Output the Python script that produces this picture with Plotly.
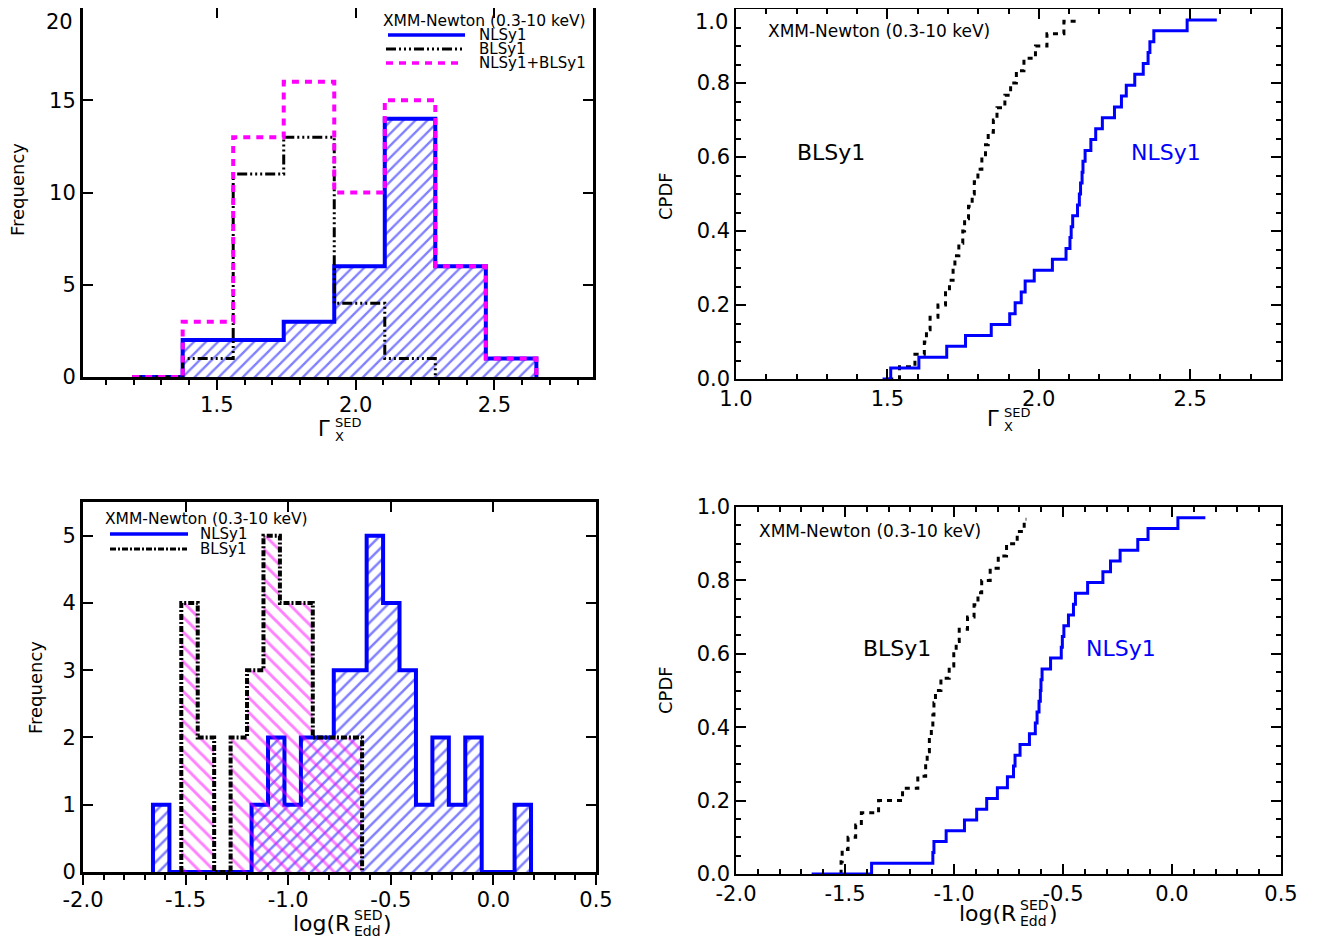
import plotly.graph_objects as go

# The page body keeps its default 8px margin, so the figure is sized to fit the
# window and all reference pixel positions are shifted by that offset.
OFF = 8
W, H = 1317 - OFF, 941 - OFF
FONT = "DejaVu Sans"
BLUE = "#0000FF"
MAGENTA = "#FF00FF"

# ---------------- data ----------------
# Top-left histogram of Gamma_X (common bins)
gamma_bin_start = 1.195
gamma_bin_width = 0.182
gamma_counts_nlsy1 = [0, 2, 2, 3, 6, 14, 6, 1]
gamma_counts_blsy1 = [0, 1, 11, 13, 4, 1]
gamma_counts_all = [0, 3, 13, 16, 10, 15, 6, 1]

# Bottom-left histogram of log(R_Edd)
redd_bin_width = 0.0801
redd_start_nlsy1 = -1.659
redd_counts_nlsy1 = [1, 0, 0, 0, 0, 0, 1, 2, 1, 2, 2, 3, 3, 5, 4, 3, 1, 2, 1, 2, 0, 0, 1]
redd_start_blsy1 = -1.521
redd_counts_blsy1 = [4, 2, 0, 2, 3, 5, 4, 4, 2, 2, 2]

# CPDF step positions: start of curve, each rise, end of curve
gamma_cdf_nlsy1 = [1.484, 1.511, 1.604, 1.696, 1.758, 1.843, 1.904, 1.922, 1.942, 1.955,
                   1.985, 2.045, 2.090, 2.103, 2.107, 2.112, 2.128, 2.134, 2.138, 2.143,
                   2.146, 2.153, 2.172, 2.188, 2.210, 2.250, 2.273, 2.289, 2.317, 2.345,
                   2.361, 2.367, 2.380, 2.490, 2.588]
gamma_cdf_blsy1 = [1.503, 1.540, 1.591, 1.622, 1.629, 1.641, 1.667, 1.692, 1.705, 1.717,
                   1.723, 1.736, 1.749, 1.755, 1.768, 1.780, 1.787, 1.799, 1.812, 1.824,
                   1.833, 1.850, 1.862, 1.888, 1.907, 1.926, 1.951, 1.989, 2.027, 2.083,
                   2.134]
redd_cdf_nlsy1 = [-1.653, -1.378, -1.097, -1.092, -1.036, -0.952, -0.896, -0.850, -0.801,
                  -0.755, -0.727, -0.720, -0.697, -0.654, -0.627, -0.619, -0.610, -0.604,
                  -0.601, -0.596, -0.557, -0.508, -0.503, -0.496, -0.475, -0.452, -0.443,
                  -0.387, -0.317, -0.282, -0.238, -0.157, -0.110, 0.027, 0.153]
redd_cdf_blsy1 = [-1.521, -1.518, -1.513, -1.486, -1.451, -1.425, -1.346, -1.236, -1.166,
                  -1.130, -1.123, -1.113, -1.104, -1.097, -1.092, -1.085, -1.060, -1.022,
                  -1.001, -0.990, -0.976, -0.938, -0.908, -0.890, -0.873, -0.834, -0.797,
                  -0.759, -0.710, -0.678, -0.668]

label_obs = "XMM-Newton (0.3-10 keV)"
label_nl = "NLSy1"
label_bl = "BLSy1"
label_all = "NLSy1+BLSy1"

gamma_ticks = [1.0, 1.5, 2.0, 2.5]
redd_ticks = [-2.0, -1.5, -1.0, -0.5, 0.0, 0.5]
cdf_ticks = [0.0, 0.2, 0.4, 0.6, 0.8, 1.0]
freq_ticks_top = [0, 5, 10, 15, 20]
freq_ticks_bottom = [0, 1, 2, 3, 4, 5]


# ---------------- helpers ----------------
def step_xy(start, width, counts):
    edges = [start + i * width for i in range(len(counts) + 1)]
    return [edges[0]] + edges, [0] + list(counts) + [0]


def cdf_xy(xs):
    n = len(xs) - 1
    ys = [i / n for i in range(n)] + [(n - 1) / n]
    return xs, ys


def px(x):
    return min(1.0, max(0.0, (x - OFF) / W))


def py(y):
    return min(1.0, max(0.0, 1 - (y - OFF) / H))


fig = go.Figure()

# ---- top-left ----
x, y = step_xy(gamma_bin_start, gamma_bin_width, gamma_counts_nlsy1)
fig.add_trace(go.Scatter(x=x, y=y, mode="lines", line=dict(color=BLUE, width=4, shape="hv"),
                         fill="tozeroy", fillcolor="rgba(0,0,0,0)",
                         fillpattern=dict(shape="/", fgcolor=BLUE, bgcolor="rgba(0,0,0,0)",
                                          size=8.5, solidity=0.28),
                         xaxis="x", yaxis="y", showlegend=False))
x, y = step_xy(gamma_bin_start, gamma_bin_width, gamma_counts_blsy1)
fig.add_trace(go.Scatter(x=x, y=y, mode="lines",
                         line=dict(color="black", width=3, shape="hv",
                                   dash="10px,3px,2px,3px,2px,3px,2px,3px"),
                         xaxis="x", yaxis="y", showlegend=False))
x, y = step_xy(gamma_bin_start, gamma_bin_width, gamma_counts_all)
fig.add_trace(go.Scatter(x=x, y=y, mode="lines",
                         line=dict(color=MAGENTA, width=4, shape="hv", dash="7px,6px"),
                         xaxis="x5", yaxis="y", showlegend=False))

# ---- top-right ----
x, y = cdf_xy(gamma_cdf_blsy1)
fig.add_trace(go.Scatter(x=x, y=y, mode="lines",
                         line=dict(color="black", width=3, shape="hv", dash="5px,5px"),
                         xaxis="x2", yaxis="y2", showlegend=False))
x, y = cdf_xy(gamma_cdf_nlsy1)
fig.add_trace(go.Scatter(x=x, y=y, mode="lines", line=dict(color=BLUE, width=3, shape="hv"),
                         xaxis="x2", yaxis="y2", showlegend=False))

# ---- bottom-left ----
x, y = step_xy(redd_start_nlsy1, redd_bin_width, redd_counts_nlsy1)
fig.add_trace(go.Scatter(x=x, y=y, mode="lines", line=dict(color=BLUE, width=4, shape="hv"),
                         fill="tozeroy", fillcolor="rgba(0,0,0,0)",
                         fillpattern=dict(shape="/", fgcolor=BLUE, bgcolor="rgba(0,0,0,0)",
                                          size=9, solidity=0.28),
                         xaxis="x3", yaxis="y3", showlegend=False))
x, y = step_xy(redd_start_blsy1, redd_bin_width, redd_counts_blsy1)
fig.add_trace(go.Scatter(x=x, y=y, mode="lines",
                         line=dict(color="black", width=4, shape="hv", dash="6px,2px,2px,2px"),
                         fill="tozeroy", fillcolor="rgba(0,0,0,0)",
                         fillpattern=dict(shape="\\", fgcolor=MAGENTA, bgcolor="rgba(0,0,0,0)",
                                          size=10.5, solidity=0.28),
                         xaxis="x6", yaxis="y3", showlegend=False))

# ---- bottom-right ----
x, y = cdf_xy(redd_cdf_blsy1)
fig.add_trace(go.Scatter(x=x, y=y, mode="lines",
                         line=dict(color="black", width=3, shape="hv", dash="5px,5px"),
                         xaxis="x4", yaxis="y4", showlegend=False))
x, y = cdf_xy(redd_cdf_nlsy1)
fig.add_trace(go.Scatter(x=x, y=y, mode="lines", line=dict(color=BLUE, width=3, shape="hv"),
                         xaxis="x4", yaxis="y4", showlegend=False))

tickfont = dict(family=FONT, size=21, color="black")


def fmt(vals):
    return [f"{v:.1f}" for v in vals]


COMMON = dict(showgrid=False, zeroline=False, automargin=False, ticklabeloverflow="allow")


def left_x(domain, rng, tickvals, anchor):
    return dict(domain=domain, range=rng, anchor=anchor, tickmode="array", tickvals=tickvals,
                ticktext=fmt(tickvals), ticks="outside", ticklen=10, tickwidth=2,
                tickcolor="black", showline=True, linewidth=3, linecolor="black", mirror=True,
                tickfont=tickfont, layer="below traces", ticklabelstandoff=-3,
                minor=dict(ticks="outside", dtick=0.1, tick0=0, ticklen=5, tickwidth=2,
                           tickcolor="black", showgrid=False), **COMMON)


def left_top(over, rng, tickvals, anchor):
    return dict(overlaying=over, side="top", anchor=anchor, range=rng, tickmode="array",
                tickvals=tickvals, ticks="inside", ticklen=10, tickwidth=2, tickcolor="black",
                showticklabels=False, showline=False, **COMMON)


def left_y(domain, rng, tickvals, ticktext, anchor):
    return dict(domain=domain, range=rng, anchor=anchor, tickmode="array", tickvals=tickvals,
                ticktext=ticktext, ticks="inside", ticklen=10, tickwidth=2, tickcolor="black",
                showline=True, linewidth=3, linecolor="black", mirror="ticks",
                tickfont=tickfont, layer="below traces", **COMMON)


def right_x(domain, rng, tickvals, anchor):
    return dict(domain=domain, range=rng, anchor=anchor, tickmode="array", tickvals=tickvals,
                ticktext=fmt(tickvals), ticks="inside", ticklen=10, tickwidth=1.5,
                tickcolor="black", showline=True, linewidth=1.5, linecolor="black",
                mirror="ticks", tickfont=tickfont,
                minor=dict(ticks="inside", dtick=0.1, tick0=0, ticklen=5, tickwidth=1.5,
                           tickcolor="black", showgrid=False), **COMMON)


def right_y(domain, anchor, ticktext):
    return dict(domain=domain, range=[0, 1.0], anchor=anchor, tickmode="array",
                tickvals=cdf_ticks, ticktext=ticktext, ticks="inside", ticklen=10,
                tickwidth=1.5, tickcolor="black", showline=True, linewidth=1.5,
                linecolor="black", mirror="ticks", tickfont=tickfont,
                minor=dict(ticks="inside", dtick=0.05, tick0=0, ticklen=5, tickwidth=1.5,
                           tickcolor="black", showgrid=False), **COMMON)


# the topmost labels of the upper panels would be clipped by the page edge,
# so they are drawn as annotations just inside it
tl_ytext = [str(v) for v in freq_ticks_top[:-1]] + [""]
tr_ytext = fmt(cdf_ticks[:-1]) + [""]

tl_xr = [1.018, 2.855]
bl_xr = [-2.0, 0.5]
fig.update_layout(
    xaxis=left_x([px(83), px(593)], tl_xr, gamma_ticks[1:], "y"),
    yaxis=left_y([py(377), py(8)], [0, 20], freq_ticks_top, tl_ytext, "x"),
    xaxis5=left_top("x", tl_xr, gamma_ticks[1:], "y"),
    xaxis2=right_x([px(736), px(1281)], [1.0, 2.8], gamma_ticks, "y2"),
    yaxis2=right_y([py(379), py(9)], "x2", tr_ytext),
    xaxis3=left_x([px(83), px(596)], bl_xr, redd_ticks, "y3"),
    yaxis3=left_y([py(872), py(502)], [0, 5.5], freq_ticks_bottom,
                  [str(v) for v in freq_ticks_bottom], "x3"),
    xaxis6=left_top("x3", bl_xr, redd_ticks, "y3"),
    xaxis4=right_x([px(736), px(1281)], bl_xr, redd_ticks, "y4"),
    yaxis4=right_y([py(874), py(507)], "x4", fmt(cdf_ticks)),
)

ann = []


def text(t, x, y, size, color="black", xanchor="center", angle=0, yanchor="middle"):
    ann.append(dict(text=t, x=px(x), y=py(y), xref="paper", yref="paper", showarrow=False,
                    xanchor=xanchor, yanchor=yanchor, textangle=angle,
                    font=dict(family=FONT, size=size, color=color)))


# top tick labels of the upper panels
text(str(freq_ticks_top[-1]), 75, 8, 21, xanchor="right", yanchor="top")
text(fmt(cdf_ticks)[-1], 730, 8, 21, xanchor="right", yanchor="top")

# legends / labels
text(label_obs, 381, 21, 15.5, xanchor="left")
text(label_nl, 477, 35, 15, xanchor="left")
text(label_bl, 477, 49, 15, xanchor="left")
text(label_all, 477, 63, 15, xanchor="left")
text(label_obs, 103, 519, 15.5, xanchor="left")
text(label_nl, 198, 534, 15, xanchor="left")
text(label_bl, 198, 549, 15, xanchor="left")
text(label_obs, 766, 31, 17, xanchor="left")
text(label_bl, 831, 152, 22)
text(label_nl, 1166, 152, 22, color=BLUE)
text(label_obs, 757, 531, 17, xanchor="left")
text(label_bl, 897, 648, 22)
text(label_nl, 1121, 648, 22, color=BLUE)

# axis titles
text("Frequency", 18, 190, 18, angle=-90)
text("Frequency", 35, 688, 18, angle=-90)
text("CPDF", 665, 196, 18, angle=-90)
text("CPDF", 665, 690, 18, angle=-90)
for gx, gy in [(332, 429), (1001, 419)]:
    text("\u0393", gx, gy, 21, xanchor="right")
    text("SED", gx + 1, gy - 7, 13, xanchor="left")
    text("X", gx + 1, gy + 7, 13, xanchor="left")
for lx, ly in [(352, 923), (1018, 913)]:
    text("log(R", lx, ly, 22, xanchor="right")
    text("SED", lx, ly - 8, 14, xanchor="left")
    text("Edd", lx, ly + 8, 14, xanchor="left")
    text(")", lx + 29, ly, 22, xanchor="left")

shapes = []


def seg(x0, x1, y, color, width, dash):
    shapes.append(dict(type="line", xref="paper", yref="paper", x0=px(x0), x1=px(x1),
                       y0=py(y), y1=py(y), line=dict(color=color, width=width, dash=dash)))


seg(388, 465, 35, BLUE, 3.5, "solid")
seg(386, 465, 49, "black", 3, "10px,3px,2px,3px,2px,3px,2px,3px")
seg(386, 462, 63, MAGENTA, 3.5, "7px,6px")
seg(110, 188, 534, BLUE, 3.5, "solid")
seg(110, 187, 549, "black", 3, "6px,2px,2px,2px")

fig.update_layout(width=W, height=H, autosize=False, margin=dict(l=0, r=0, t=0, b=0),
                  paper_bgcolor="white", plot_bgcolor="white", annotations=ann, shapes=shapes,
                  showlegend=False, font=dict(family=FONT, color="black"))

fig.write_html("out.html")
